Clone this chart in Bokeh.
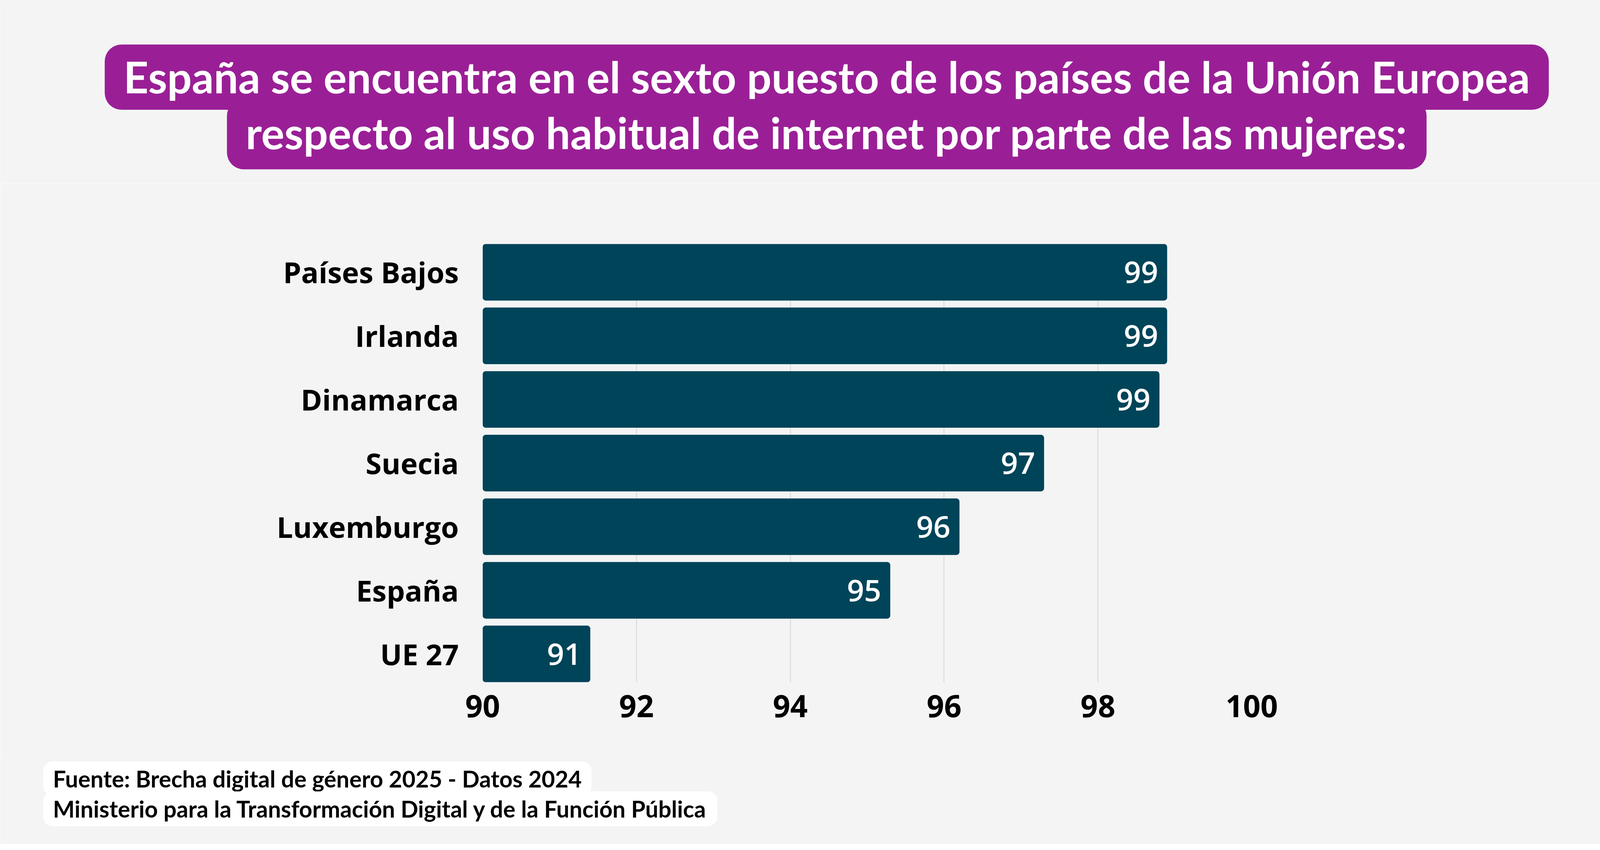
from bokeh.plotting import figure
from bokeh.models import FactorRange, Range1d, FixedTicker, Label, ColumnDataSource
from bokeh.layouts import column
from bokeh.core.properties import value
from bokeh.embed import file_html
from bokeh.resources import INLINE

# ---- data ----
countries = ["Países Bajos", "Irlanda", "Dinamarca", "Suecia", "Luxemburgo", "España", "UE 27"]
values = [98.9, 98.9, 98.8, 97.3, 96.2, 95.3, 91.4]
value_labels = ["99", "99", "99", "97", "96", "95", "91"]
x_ticks = [90, 92, 94, 96, 98, 100]
grid_ticks = [92, 94, 96, 98, 100]

title_lines = [
    "España se encuentra en el sexto puesto de los países de la Unión Europea",
    "respecto al uso habitual de internet por parte de las mujeres:",
]
source_lines = [
    "Fuente: Brecha digital de género 2025 - Datos 2024",
    "Ministerio para la Transformación Digital y de la Función Pública",
]

FONT = "Open Sans"
TFONT = "Lato"
VFONT = "Open Sans SemiBold, Open Sans"
BG = "#f4f4f5"
BAR = "#004459"
PURPLE = "#9a1f96"

W = 4232
H_TITLE, H_CHART, H_FOOT = 470, 1460, 230


def blank(h):
    f = figure(width=W, height=h, x_range=Range1d(0, 1), y_range=Range1d(0, 1),
               x_axis_type=None, y_axis_type=None, output_backend="svg",
               toolbar_location=None, min_border=0, frame_align=False)
    f.grid.visible = False
    f.background_fill_color = BG
    f.border_fill_color = BG
    f.outline_line_color = None
    return f


# ---- title ----
pt = blank(H_TITLE)
title_pads = [dict(left=48, right=48, top=15, bottom=18),
              dict(left=48, right=48, top=18, bottom=28)]
for txt, cy, pad in zip(title_lines, [197, 343], title_pads):
    pt.add_layout(Label(
        x=2116, y=H_TITLE - cy, x_units="screen", y_units="screen", text=txt,
        text_align="center", text_baseline="middle", text_color="white",
        text_font=TFONT, text_font_style="bold", text_font_size="111px",
        background_fill_color=PURPLE, border_radius=43, padding=pad,
    ))

# ---- chart ----
p = figure(
    width=W, height=H_CHART,
    y_range=FactorRange(factors=countries[::-1], range_padding=-0.055, range_padding_units="absolute"),
    x_range=Range1d(90, 100),
    output_backend="svg", toolbar_location=None, frame_align=False,
    min_border_left=1235, min_border_right=1028, min_border_top=154, min_border_bottom=184,
)
p.background_fill_color = BG
p.border_fill_color = BG
p.outline_line_color = None

src = ColumnDataSource(dict(country=countries, val=values, lab=value_labels))
p.hbar(y="country", left=90, right="val", height=0.89, source=src,
       fill_color=BAR, line_color=None, border_radius=8)
p.text(x="val", y="country", text="lab", source=src, x_offset=-23,
       text_align="right", text_baseline="middle", text_color="white",
       text_font=value(VFONT), text_font_size="77px", text_font_style="normal")

p.ygrid.visible = False
p.xgrid.ticker = FixedTicker(ticks=grid_ticks)
p.xgrid.grid_line_color = "#d6d6d8"
p.xgrid.grid_line_width = 2

xa = p.xaxis[0]
xa.ticker = FixedTicker(ticks=x_ticks)
xa.axis_line_color = None
xa.major_tick_line_color = None
xa.minor_tick_line_color = None
xa.major_label_standoff = 26
xa.major_label_text_font = FONT
xa.major_label_text_font_style = "bold"
xa.major_label_text_font_size = "78px"
xa.major_label_text_color = "black"

ya = p.yaxis[0]
ya.axis_line_color = None
ya.major_tick_line_color = None
ya.minor_tick_line_color = None
ya.major_label_standoff = 55
ya.major_label_text_font = FONT
ya.major_label_text_font_style = "bold"
ya.major_label_text_font_size = "74px"
ya.major_label_text_color = "black"

# ---- footer ----
pf = blank(H_FOOT)
for txt, cy in zip(source_lines, [63, 140]):
    pf.add_layout(Label(
        x=110, y=H_FOOT - cy, x_units="screen", y_units="screen", text=txt,
        text_align="left", text_baseline="middle", text_color="black",
        text_font=TFONT, text_font_style="bold", text_font_size="59px",
        background_fill_color="white", border_radius=25,
        padding=dict(left=25, right=25, top=9, bottom=9),
    ))

layout = column(pt, p, pf, spacing=0)
open("out.html", "w").write(file_html(layout, INLINE))
